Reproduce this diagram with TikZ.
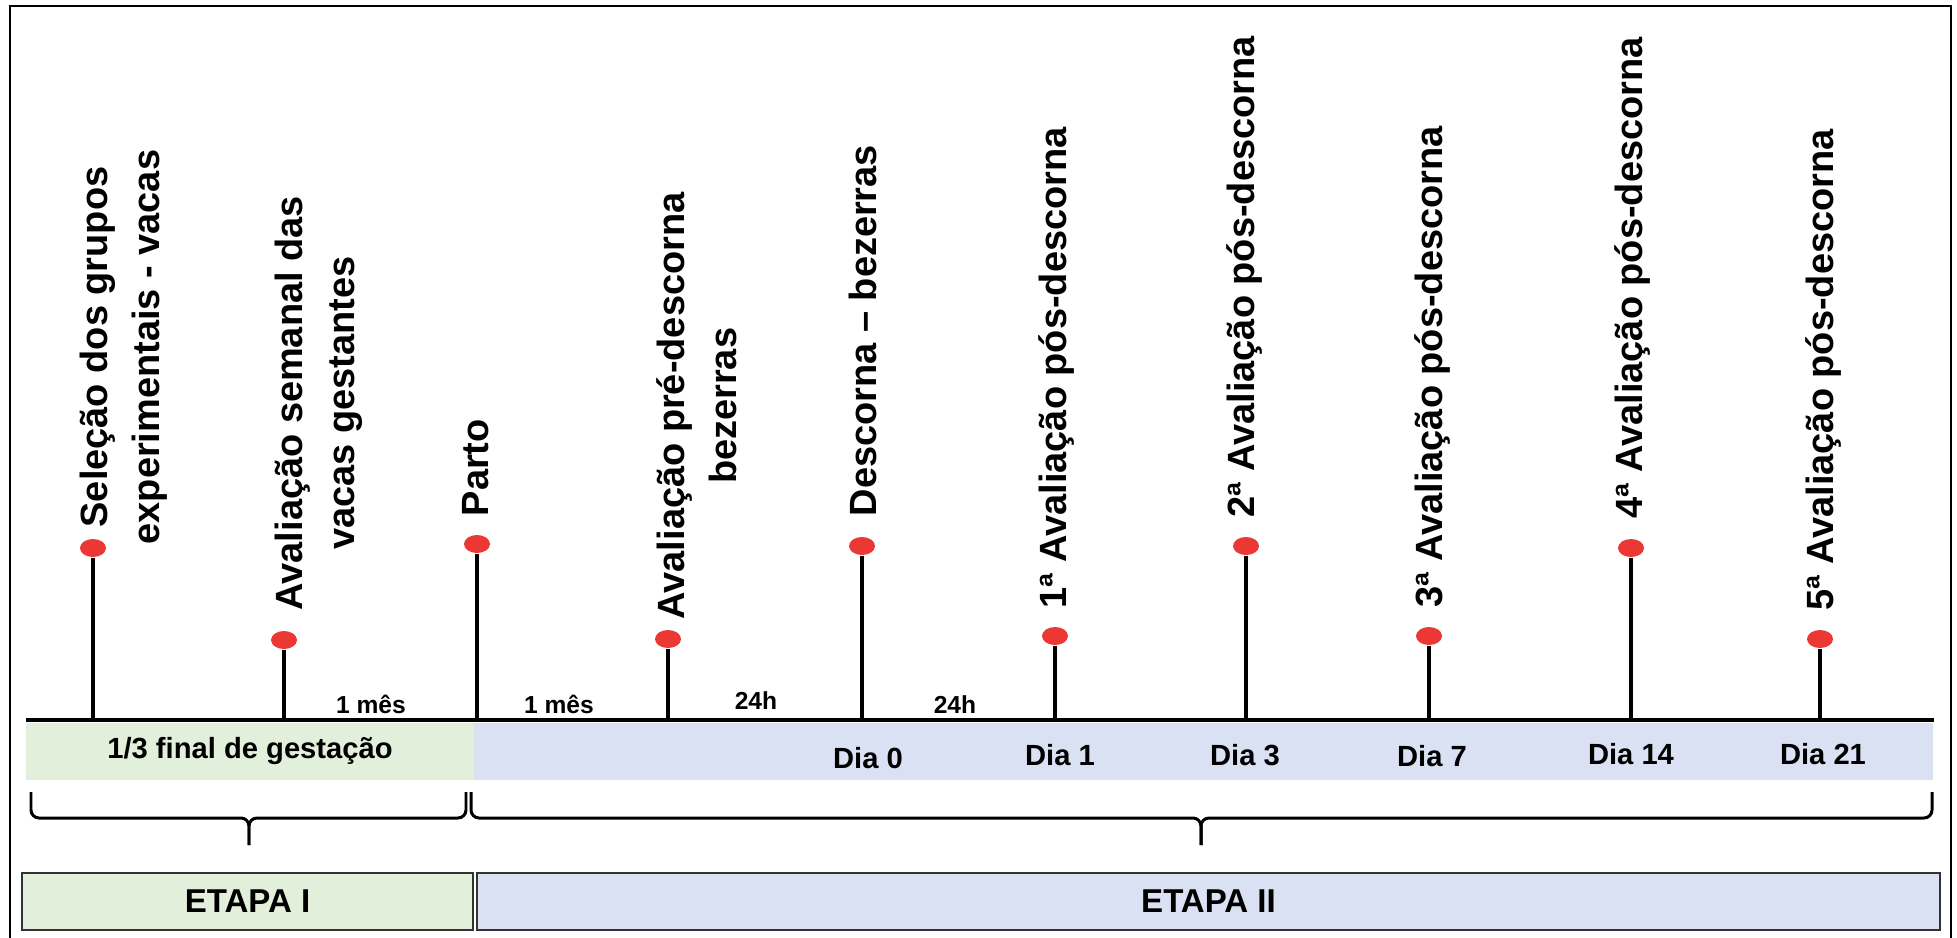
\documentclass[tikz,border=0pt]{standalone}
\usepackage{fontspec}
\setmainfont{Liberation Sans}
\usetikzlibrary{shapes.geometric}

\definecolor{gestgreen}{RGB}{226,239,218}
\definecolor{stageblue}{RGB}{217,225,242}
\definecolor{dotred}{RGB}{236,56,52}

\tikzset{
	evdot/.style={ellipse, fill=dotred, minimum width=0.26cm, minimum height=0.18cm, inner sep=0pt},
	stemline/.style={line width=0.95pt},
	evlabel/.style={rotate=90, anchor=west, align=center, inner sep=0pt, font=\fontsize{10.8pt}{14.8pt}\selectfont\bfseries},
	gaptxt/.style={inner sep=0pt, font=\fontsize{7pt}{8pt}\selectfont\bfseries},
	daytxt/.style={inner sep=0pt, font=\fontsize{8.3pt}{10pt}\selectfont\bfseries},
	bandbox/.style={inner sep=0pt, minimum height=0.57cm, font=\fontsize{8.3pt}{10pt}\selectfont\bfseries},
	stagebox/.style={draw=black!80, line width=0.6pt, minimum height=0.57cm, font=\fontsize{9.4pt}{11pt}\selectfont\bfseries},
	brc/.style={line width=0.85pt, rounded corners=0.08cm}
}

\begin{document}
\begin{tikzpicture}
		\useasboundingbox (0,0) rectangle (19.57,9.37);
		
		% Draw outer frame
		\draw[line width=0.7pt] (0.10,-0.2) rectangle (19.51,9.31);
		
		% Draw coloured bands under the time line
		\node[bandbox, fill=gestgreen, minimum width=4.48cm] (gest) at (2.50,1.855) {1/3 final de gesta\c{c}\~ao};
		\node[bandbox, fill=stageblue, minimum width=14.59cm] (post) at (12.035,1.855) {};
		
		% Draw time line
		\coordinate (axl) at (0.26,2.17);
		\coordinate (axr) at (19.34,2.17);
		\draw[line width=1.15pt] (axl) -- (axr);
		
		% Draw event points and stems
		\foreach \x/\y [count=\i] in {0.93/3.89, 2.84/2.97, 4.77/3.93, 6.68/2.98, 8.62/3.91,
				10.55/3.01, 12.46/3.91, 14.29/3.01, 16.31/3.89, 18.20/2.98}
		{
			\node[evdot] (d\i) at (\x,\y) {};
			\draw[stemline] (d\i.south) -- (d\i |- axl);
		}
		
		% Draw event labels
		\node[evlabel] (l1) at (1.24,3.92) {Seleção dos grupos\\experimentais - vacas};
		\node[evlabel] (l2) at (3.19,3.26) {Avaliação semanal das\\vacas gestantes};
		\node[evlabel] (l3) at (4.76,4.20) {Parto};
		\node[evlabel] (l4) at (6.97,3.17) {Avaliação pré-descorna\\bezerras};
		\node[evlabel] (l5) at (8.63,4.20) {Descorna – bezerras};
		\node[evlabel] (l6) at (10.57,3.28) {1ª Avaliação pós-descorna};
		\node[evlabel] (l7) at (12.45,4.19) {2ª Avaliação pós-descorna};
		\node[evlabel] (l8) at (14.33,3.29) {3ª Avaliação pós-descorna};
		\node[evlabel] (l9) at (16.32,4.18) {4ª Avaliação pós-descorna};
		\node[evlabel] (l10) at (18.23,3.26) {5ª Avaliação pós-descorna};
		
		% Draw interval labels
		\node[gaptxt] (g1) at (3.71,2.33) {1 mês};
		\node[gaptxt] (g2) at (5.59,2.33) {1 mês};
		\node[gaptxt] (g3) at (7.56,2.36) {24h};
		\node[gaptxt] (g4) at (9.55,2.32) {24h};
		
		% Draw day labels
		\node[daytxt] (dia0) at (8.68,1.79) {Dia 0};
		\node[daytxt] (dia1) at (10.60,1.82) {Dia 1};
		\node[daytxt] (dia3) at (12.45,1.82) {Dia 3};
		\node[daytxt] (dia7) at (14.32,1.81) {Dia 7};
		\node[daytxt] (dia14) at (16.31,1.83) {Dia 14};
		\node[daytxt] (dia21) at (18.23,1.83) {Dia 21};
		
		% Draw left brace
		\draw[brc] (0.31,1.45) -- (0.31,1.19) -- (2.49,1.19) -- (2.49,0.92);
		\draw[brc] (4.66,1.45) -- (4.66,1.19) -- (2.49,1.19) -- (2.49,0.92);
		
		% Draw right brace
		\draw[brc] (4.71,1.45) -- (4.71,1.19) -- (12.01,1.19) -- (12.01,0.92);
		\draw[brc] (19.32,1.45) -- (19.32,1.19) -- (12.01,1.19) -- (12.01,0.92);
		
		% Draw stage boxes
		\node[stagebox, fill=gestgreen, minimum width=4.51cm] (etapa1) at (2.475,0.355) {ETAPA I};
		\node[stagebox, fill=stageblue, minimum width=14.63cm] (etapa2) at (12.085,0.355) {ETAPA II};
\end{tikzpicture}
\end{document}
